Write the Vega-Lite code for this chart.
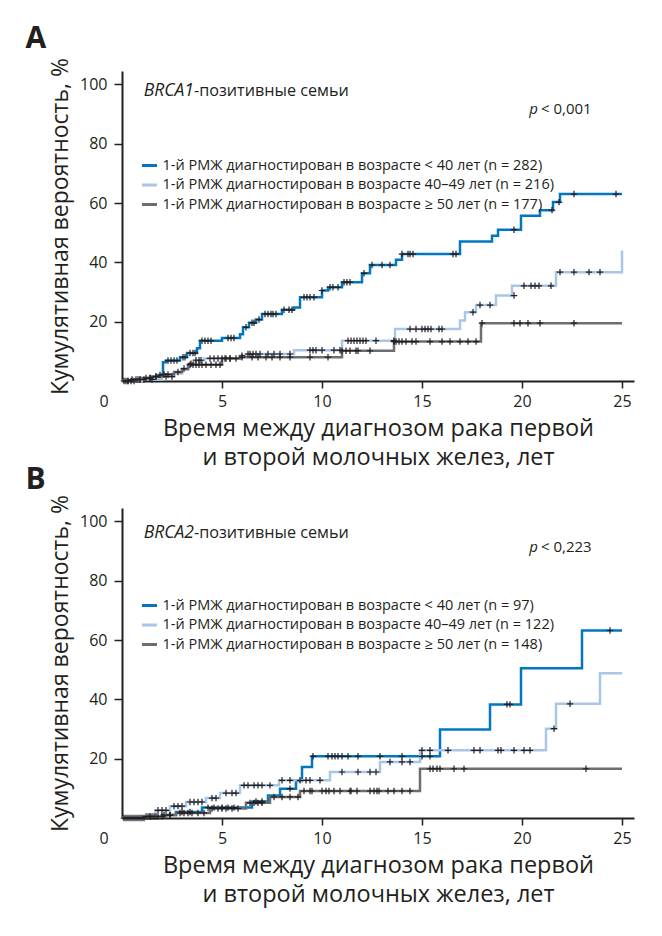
{
  "$schema": "https://vega.github.io/schema/vega-lite/v6.json",
  "background": "white",
  "padding": {"left": 25, "top": 24, "right": 10, "bottom": 10},
  "spacing": -5,
  "config": {
    "font": "Open Sans",
    "view": {"stroke": null},
    "axis": {"grid": false, "domainColor": "#231f20", "domainWidth": 2, "tickColor": "#231f20", "tickWidth": 1.5, "labelColor": "#231f20", "titleColor": "#231f20", "labelFont": "Open Sans", "titleFont": "Open Sans", "titleFontWeight": "normal"},
    "axisX": {"tickSize": 7, "labelFontSize": 16, "labelPadding": 5, "titleFontSize": 23.5, "titlePadding": 7, "titleLineHeight": 29},
    "axisY": {"tickSize": 8, "labelFontSize": 16, "labelPadding": 7, "titleFontSize": 23, "titlePadding": 7},
    "legend": {"orient": "none", "symbolType": "stroke", "symbolStrokeWidth": 3, "symbolSize": 225, "labelFontSize": 14.5, "labelColor": "#231f20", "labelFont": "Open Sans", "labelLimit": 600, "labelOffset": 4, "rowPadding": 3.5, "padding": 0, "title": null},
    "title": {"font": "Open Sans", "fontSize": 30, "fontWeight": "bold", "color": "#231f20", "anchor": "start", "frame": "group", "baseline": "alphabetic"}
  },
  "datasets": {
    "a_lines": [
      {"g":"a","t":0,"v":0},{"g":"a","t":0.8,"v":0.5},{"g":"a","t":1.3,"v":1.0},{"g":"a","t":1.6,"v":1.5},{"g":"a","t":1.85,"v":2.0},{"g":"a","t":2.05,"v":6.3},{"g":"a","t":2.2,"v":6.9},{"g":"a","t":2.9,"v":8.0},{"g":"a","t":3.25,"v":9.4},{"g":"a","t":3.75,"v":11.0},{"g":"a","t":3.9,"v":13.6},{"g":"a","t":5.0,"v":14.5},{"g":"a","t":5.9,"v":15.8},{"g":"a","t":6.05,"v":18.1},{"g":"a","t":6.35,"v":19.6},{"g":"a","t":6.7,"v":20.7},{"g":"a","t":7.0,"v":22.6},{"g":"a","t":8.0,"v":24.0},{"g":"a","t":8.6,"v":24.8},{"g":"a","t":8.9,"v":28.2},{"g":"a","t":10.0,"v":30.5},{"g":"a","t":10.3,"v":31.6},{"g":"a","t":11.0,"v":33.3},{"g":"a","t":12.0,"v":36.3},{"g":"a","t":12.4,"v":39.1},{"g":"a","t":13.7,"v":40.9},{"g":"a","t":14.0,"v":42.8},{"g":"a","t":16.9,"v":47.0},{"g":"a","t":18.5,"v":49.0},{"g":"a","t":18.8,"v":51.0},{"g":"a","t":19.95,"v":55.7},{"g":"a","t":20.9,"v":57.6},{"g":"a","t":21.55,"v":60.3},{"g":"a","t":21.9,"v":63.0},{"g":"a","t":25.0,"v":63.0},
      {"g":"b","t":0,"v":0},{"g":"b","t":1.0,"v":0.5},{"g":"b","t":2.0,"v":1.5},{"g":"b","t":2.6,"v":2.5},{"g":"b","t":3.0,"v":4.2},{"g":"b","t":3.35,"v":5.8},{"g":"b","t":3.6,"v":7.0},{"g":"b","t":4.1,"v":7.6},{"g":"b","t":5.9,"v":8.5},{"g":"b","t":6.2,"v":9.1},{"g":"b","t":8.6,"v":10.4},{"g":"b","t":11.0,"v":13.6},{"g":"b","t":13.65,"v":17.5},{"g":"b","t":16.9,"v":20.4},{"g":"b","t":17.15,"v":23.2},{"g":"b","t":17.7,"v":25.6},{"g":"b","t":18.7,"v":28.8},{"g":"b","t":19.5,"v":32.1},{"g":"b","t":21.7,"v":36.7},{"g":"b","t":25.0,"v":36.7},{"g":"b","t":25.0,"v":44.0},
      {"g":"c","t":0,"v":0},{"g":"c","t":0.5,"v":0.5},{"g":"c","t":1.0,"v":1.0},{"g":"c","t":1.5,"v":1.5},{"g":"c","t":2.0,"v":2.2},{"g":"c","t":2.6,"v":3.0},{"g":"c","t":3.0,"v":4.0},{"g":"c","t":3.3,"v":5.5},{"g":"c","t":5.0,"v":7.6},{"g":"c","t":5.9,"v":8.0},{"g":"c","t":11.0,"v":10.2},{"g":"c","t":13.6,"v":13.3},{"g":"c","t":17.95,"v":19.5},{"g":"c","t":25.0,"v":19.5}
    ],
    "a_cens": [
      {"g":"a","t":0.1,"v":0},{"g":"a","t":0.2,"v":0},{"g":"a","t":0.3,"v":0},{"g":"a","t":0.45,"v":0},{"g":"a","t":0.6,"v":0},{"g":"a","t":0.9,"v":0.5},{"g":"a","t":1.1,"v":0.5},{"g":"a","t":1.4,"v":1.0},{"g":"a","t":1.7,"v":1.5},{"g":"a","t":1.9,"v":2.0},{"g":"a","t":2.3,"v":6.9},{"g":"a","t":2.45,"v":6.9},{"g":"a","t":2.6,"v":6.9},{"g":"a","t":2.75,"v":6.9},{"g":"a","t":3.05,"v":8.0},{"g":"a","t":3.15,"v":8.0},{"g":"a","t":3.4,"v":9.4},{"g":"a","t":3.55,"v":9.4},{"g":"a","t":3.65,"v":9.4},{"g":"a","t":4.0,"v":13.6},{"g":"a","t":4.15,"v":13.6},{"g":"a","t":4.3,"v":13.6},{"g":"a","t":4.45,"v":13.6},{"g":"a","t":5.3,"v":14.5},{"g":"a","t":5.45,"v":14.5},{"g":"a","t":5.6,"v":14.5},{"g":"a","t":6.2,"v":18.1},{"g":"a","t":6.5,"v":19.6},{"g":"a","t":6.6,"v":19.6},{"g":"a","t":6.85,"v":20.7},{"g":"a","t":7.15,"v":22.6},{"g":"a","t":7.3,"v":22.6},{"g":"a","t":7.45,"v":22.6},{"g":"a","t":7.55,"v":22.6},{"g":"a","t":7.7,"v":22.6},{"g":"a","t":8.1,"v":24.0},{"g":"a","t":8.35,"v":24.0},{"g":"a","t":8.5,"v":24.0},{"g":"a","t":9.1,"v":28.2},{"g":"a","t":9.25,"v":28.2},{"g":"a","t":9.4,"v":28.2},{"g":"a","t":9.6,"v":28.2},{"g":"a","t":10.0,"v":30.5},{"g":"a","t":10.4,"v":31.6},{"g":"a","t":10.55,"v":31.6},{"g":"a","t":10.8,"v":31.6},{"g":"a","t":11.1,"v":33.3},{"g":"a","t":11.25,"v":33.3},{"g":"a","t":11.4,"v":33.3},{"g":"a","t":12.1,"v":36.3},{"g":"a","t":12.5,"v":39.1},{"g":"a","t":13.0,"v":39.1},{"g":"a","t":13.4,"v":39.1},{"g":"a","t":14.0,"v":42.8},{"g":"a","t":14.3,"v":42.8},{"g":"a","t":14.4,"v":42.8},{"g":"a","t":14.55,"v":42.8},{"g":"a","t":16.55,"v":42.8},{"g":"a","t":16.7,"v":42.8},{"g":"a","t":19.6,"v":51.0},{"g":"a","t":21.5,"v":57.6},{"g":"a","t":21.85,"v":60.3},{"g":"a","t":22.6,"v":63.0},{"g":"a","t":24.7,"v":63.0},
      {"g":"b","t":0.8,"v":0.5},{"g":"b","t":1.5,"v":0.5},{"g":"b","t":2.2,"v":1.5},{"g":"b","t":2.5,"v":1.5},{"g":"b","t":3.1,"v":4.2},{"g":"b","t":3.45,"v":5.8},{"g":"b","t":3.7,"v":7.0},{"g":"b","t":3.85,"v":7.0},{"g":"b","t":3.95,"v":7.0},{"g":"b","t":4.4,"v":7.6},{"g":"b","t":4.6,"v":7.6},{"g":"b","t":4.8,"v":7.6},{"g":"b","t":5.0,"v":7.6},{"g":"b","t":5.15,"v":7.6},{"g":"b","t":5.4,"v":7.6},{"g":"b","t":6.0,"v":8.5},{"g":"b","t":6.3,"v":9.1},{"g":"b","t":6.4,"v":9.1},{"g":"b","t":6.55,"v":9.1},{"g":"b","t":6.7,"v":9.1},{"g":"b","t":6.9,"v":9.1},{"g":"b","t":7.3,"v":9.1},{"g":"b","t":7.6,"v":9.1},{"g":"b","t":7.9,"v":9.1},{"g":"b","t":8.4,"v":9.1},{"g":"b","t":9.4,"v":10.4},{"g":"b","t":9.55,"v":10.4},{"g":"b","t":9.7,"v":10.4},{"g":"b","t":10.0,"v":10.4},{"g":"b","t":10.6,"v":10.4},{"g":"b","t":10.9,"v":10.4},{"g":"b","t":11.3,"v":13.6},{"g":"b","t":11.45,"v":13.6},{"g":"b","t":11.6,"v":13.6},{"g":"b","t":11.75,"v":13.6},{"g":"b","t":11.9,"v":13.6},{"g":"b","t":12.05,"v":13.6},{"g":"b","t":12.2,"v":13.6},{"g":"b","t":12.7,"v":13.6},{"g":"b","t":13.6,"v":13.6},{"g":"b","t":14.4,"v":17.5},{"g":"b","t":14.7,"v":17.5},{"g":"b","t":15.0,"v":17.5},{"g":"b","t":15.15,"v":17.5},{"g":"b","t":15.3,"v":17.5},{"g":"b","t":15.45,"v":17.5},{"g":"b","t":15.85,"v":17.5},{"g":"b","t":16.0,"v":17.5},{"g":"b","t":17.55,"v":23.2},{"g":"b","t":17.9,"v":25.6},{"g":"b","t":18.4,"v":25.6},{"g":"b","t":19.6,"v":28.8},{"g":"b","t":20.1,"v":32.1},{"g":"b","t":20.45,"v":32.1},{"g":"b","t":20.65,"v":32.1},{"g":"b","t":20.85,"v":32.1},{"g":"b","t":21.45,"v":32.1},{"g":"b","t":21.9,"v":36.7},{"g":"b","t":22.6,"v":36.7},{"g":"b","t":23.35,"v":36.7},{"g":"b","t":23.9,"v":36.7},
      {"g":"c","t":0.3,"v":0},{"g":"c","t":0.5,"v":0.5},{"g":"c","t":0.7,"v":0.5},{"g":"c","t":0.9,"v":0.5},{"g":"c","t":1.2,"v":1.0},{"g":"c","t":1.4,"v":1.0},{"g":"c","t":1.7,"v":1.5},{"g":"c","t":2.1,"v":2.2},{"g":"c","t":2.3,"v":2.2},{"g":"c","t":2.8,"v":3.0},{"g":"c","t":3.4,"v":5.5},{"g":"c","t":3.55,"v":5.5},{"g":"c","t":3.7,"v":5.5},{"g":"c","t":3.85,"v":5.5},{"g":"c","t":4.0,"v":5.5},{"g":"c","t":4.2,"v":5.5},{"g":"c","t":4.45,"v":5.5},{"g":"c","t":4.7,"v":5.5},{"g":"c","t":4.9,"v":5.5},{"g":"c","t":5.2,"v":7.6},{"g":"c","t":5.4,"v":7.6},{"g":"c","t":5.7,"v":7.6},{"g":"c","t":6.0,"v":8.0},{"g":"c","t":6.5,"v":8.0},{"g":"c","t":6.8,"v":8.0},{"g":"c","t":7.2,"v":8.0},{"g":"c","t":7.5,"v":8.0},{"g":"c","t":7.9,"v":8.0},{"g":"c","t":8.4,"v":8.0},{"g":"c","t":9.4,"v":8.0},{"g":"c","t":10.3,"v":8.0},{"g":"c","t":11.0,"v":10.2},{"g":"c","t":11.2,"v":10.2},{"g":"c","t":11.4,"v":10.2},{"g":"c","t":11.7,"v":10.2},{"g":"c","t":11.8,"v":10.2},{"g":"c","t":12.4,"v":10.2},{"g":"c","t":13.6,"v":13.3},{"g":"c","t":13.7,"v":13.3},{"g":"c","t":13.85,"v":13.3},{"g":"c","t":14.0,"v":13.3},{"g":"c","t":14.2,"v":13.3},{"g":"c","t":14.5,"v":13.3},{"g":"c","t":14.7,"v":13.3},{"g":"c","t":15.4,"v":13.3},{"g":"c","t":16.0,"v":13.3},{"g":"c","t":16.4,"v":13.3},{"g":"c","t":16.9,"v":13.3},{"g":"c","t":17.3,"v":13.3},{"g":"c","t":17.7,"v":13.3},{"g":"c","t":18.0,"v":19.5},{"g":"c","t":19.6,"v":19.5},{"g":"c","t":19.9,"v":19.5},{"g":"c","t":20.3,"v":19.5},{"g":"c","t":20.9,"v":19.5},{"g":"c","t":22.6,"v":19.5}
    ],
    "b_lines": [
      {"g":"a","t":0,"v":0},{"g":"a","t":1.2,"v":0.5},{"g":"a","t":2.0,"v":1.0},{"g":"a","t":2.7,"v":2.0},{"g":"a","t":4.0,"v":3.5},{"g":"a","t":6.5,"v":5.6},{"g":"a","t":7.3,"v":7.6},{"g":"a","t":7.9,"v":9.9},{"g":"a","t":8.7,"v":12.5},{"g":"a","t":9.0,"v":17.2},{"g":"a","t":9.5,"v":20.8},{"g":"a","t":15.9,"v":29.8},{"g":"a","t":18.4,"v":38.3},{"g":"a","t":19.95,"v":50.5},{"g":"a","t":23.0,"v":63.2},{"g":"a","t":25.0,"v":63.2},
      {"g":"b","t":0,"v":0},{"g":"b","t":1.0,"v":0.5},{"g":"b","t":1.67,"v":2.6},{"g":"b","t":2.4,"v":4.0},{"g":"b","t":3.2,"v":5.4},{"g":"b","t":4.2,"v":6.7},{"g":"b","t":4.9,"v":8.4},{"g":"b","t":5.9,"v":11.0},{"g":"b","t":7.85,"v":12.7},{"g":"b","t":10.4,"v":15.5},{"g":"b","t":12.9,"v":18.9},{"g":"b","t":14.9,"v":22.8},{"g":"b","t":21.2,"v":30.1},{"g":"b","t":21.7,"v":38.5},{"g":"b","t":23.9,"v":48.8},{"g":"b","t":25.0,"v":48.8},
      {"g":"c","t":0,"v":0},{"g":"c","t":1.3,"v":0.5},{"g":"c","t":2.2,"v":1.0},{"g":"c","t":2.7,"v":1.7},{"g":"c","t":4.4,"v":3.2},{"g":"c","t":6.2,"v":5.1},{"g":"c","t":7.4,"v":7.1},{"g":"c","t":8.9,"v":9.1},{"g":"c","t":14.9,"v":16.6},{"g":"c","t":25.0,"v":16.6}
    ],
    "b_cens": [
      {"g":"a","t":0.2,"v":0},{"g":"a","t":0.4,"v":0},{"g":"a","t":0.6,"v":0},{"g":"a","t":0.8,"v":0},{"g":"a","t":1.0,"v":0},{"g":"a","t":1.3,"v":0.5},{"g":"a","t":1.5,"v":0.5},{"g":"a","t":1.7,"v":0.5},{"g":"a","t":2.1,"v":1.0},{"g":"a","t":2.4,"v":1.0},{"g":"a","t":3.0,"v":2.0},{"g":"a","t":3.4,"v":2.0},{"g":"a","t":4.3,"v":3.5},{"g":"a","t":4.6,"v":3.5},{"g":"a","t":5.0,"v":3.5},{"g":"a","t":5.3,"v":3.5},{"g":"a","t":5.6,"v":3.5},{"g":"a","t":6.7,"v":5.6},{"g":"a","t":7.0,"v":5.6},{"g":"a","t":8.4,"v":9.9},{"g":"a","t":9.55,"v":20.8},{"g":"a","t":10.3,"v":20.8},{"g":"a","t":10.5,"v":20.8},{"g":"a","t":10.65,"v":20.8},{"g":"a","t":10.8,"v":20.8},{"g":"a","t":11.0,"v":20.8},{"g":"a","t":11.3,"v":20.8},{"g":"a","t":11.8,"v":20.8},{"g":"a","t":12.9,"v":20.8},{"g":"a","t":14.0,"v":20.8},{"g":"a","t":15.0,"v":20.8},{"g":"a","t":15.4,"v":20.8},{"g":"a","t":19.25,"v":38.3},{"g":"a","t":19.4,"v":38.3},{"g":"a","t":24.4,"v":63.2},
      {"g":"b","t":1.2,"v":0.5},{"g":"b","t":1.4,"v":0.5},{"g":"b","t":1.8,"v":2.6},{"g":"b","t":2.0,"v":2.6},{"g":"b","t":2.2,"v":2.6},{"g":"b","t":2.6,"v":4.0},{"g":"b","t":2.8,"v":4.0},{"g":"b","t":3.0,"v":4.0},{"g":"b","t":3.4,"v":5.4},{"g":"b","t":3.6,"v":5.4},{"g":"b","t":3.8,"v":5.4},{"g":"b","t":4.0,"v":5.4},{"g":"b","t":4.5,"v":6.7},{"g":"b","t":4.7,"v":6.7},{"g":"b","t":5.2,"v":8.4},{"g":"b","t":5.5,"v":8.4},{"g":"b","t":5.7,"v":8.4},{"g":"b","t":6.1,"v":11.0},{"g":"b","t":6.3,"v":11.0},{"g":"b","t":6.6,"v":11.0},{"g":"b","t":6.8,"v":11.0},{"g":"b","t":7.0,"v":11.0},{"g":"b","t":7.4,"v":11.0},{"g":"b","t":8.0,"v":12.7},{"g":"b","t":8.4,"v":12.7},{"g":"b","t":8.9,"v":12.7},{"g":"b","t":9.2,"v":12.7},{"g":"b","t":9.4,"v":12.7},{"g":"b","t":9.9,"v":12.7},{"g":"b","t":11.0,"v":15.5},{"g":"b","t":11.8,"v":15.5},{"g":"b","t":12.4,"v":15.5},{"g":"b","t":12.7,"v":15.5},{"g":"b","t":13.4,"v":18.9},{"g":"b","t":14.0,"v":18.9},{"g":"b","t":14.4,"v":18.9},{"g":"b","t":15.0,"v":22.8},{"g":"b","t":15.4,"v":22.8},{"g":"b","t":16.3,"v":22.8},{"g":"b","t":17.6,"v":22.8},{"g":"b","t":17.9,"v":22.8},{"g":"b","t":18.8,"v":22.8},{"g":"b","t":18.95,"v":22.8},{"g":"b","t":19.6,"v":22.8},{"g":"b","t":20.1,"v":22.8},{"g":"b","t":20.4,"v":22.8},{"g":"b","t":21.6,"v":30.1},{"g":"b","t":22.4,"v":38.5},
      {"g":"c","t":0.1,"v":0},{"g":"c","t":0.3,"v":0},{"g":"c","t":0.5,"v":0},{"g":"c","t":0.7,"v":0},{"g":"c","t":0.9,"v":0},{"g":"c","t":1.1,"v":0},{"g":"c","t":1.4,"v":0.5},{"g":"c","t":1.6,"v":0.5},{"g":"c","t":1.8,"v":0.5},{"g":"c","t":2.0,"v":0.5},{"g":"c","t":2.4,"v":1.0},{"g":"c","t":2.9,"v":1.7},{"g":"c","t":3.1,"v":1.7},{"g":"c","t":3.3,"v":1.7},{"g":"c","t":3.5,"v":1.7},{"g":"c","t":3.8,"v":1.7},{"g":"c","t":4.1,"v":1.7},{"g":"c","t":4.5,"v":3.2},{"g":"c","t":4.8,"v":3.2},{"g":"c","t":5.0,"v":3.2},{"g":"c","t":5.2,"v":3.2},{"g":"c","t":5.5,"v":3.2},{"g":"c","t":5.8,"v":3.2},{"g":"c","t":6.4,"v":5.1},{"g":"c","t":6.6,"v":5.1},{"g":"c","t":6.8,"v":5.1},{"g":"c","t":7.0,"v":5.1},{"g":"c","t":7.6,"v":7.1},{"g":"c","t":8.0,"v":7.1},{"g":"c","t":8.4,"v":7.1},{"g":"c","t":8.8,"v":7.1},{"g":"c","t":9.1,"v":9.1},{"g":"c","t":9.4,"v":9.1},{"g":"c","t":9.5,"v":9.1},{"g":"c","t":10.0,"v":9.1},{"g":"c","t":10.2,"v":9.1},{"g":"c","t":10.35,"v":9.1},{"g":"c","t":10.6,"v":9.1},{"g":"c","t":10.9,"v":9.1},{"g":"c","t":11.4,"v":9.1},{"g":"c","t":11.45,"v":9.1},{"g":"c","t":11.75,"v":9.1},{"g":"c","t":12.4,"v":9.1},{"g":"c","t":12.6,"v":9.1},{"g":"c","t":12.75,"v":9.1},{"g":"c","t":12.85,"v":9.1},{"g":"c","t":13.3,"v":9.1},{"g":"c","t":13.6,"v":9.1},{"g":"c","t":14.0,"v":9.1},{"g":"c","t":14.4,"v":9.1},{"g":"c","t":15.4,"v":16.6},{"g":"c","t":15.55,"v":16.6},{"g":"c","t":15.75,"v":16.6},{"g":"c","t":15.9,"v":16.6},{"g":"c","t":16.6,"v":16.6},{"g":"c","t":17.1,"v":16.6},{"g":"c","t":23.2,"v":16.6}
    ]
  },
  "resolve": {"scale": {"color": "independent"}, "legend": {"color": "independent"}},
  "vconcat": [
    {
      "width": 512, "height": 310,
      "title": {"text": "A", "dx": -96.5, "offset": 3.3},
      "layer": [
        {
          "data": {"name": "a_lines"},
          "mark": {"type": "line", "interpolate": "step-after", "strokeWidth": 2.5},
          "encoding": {
            "x": {"field": "t", "type": "quantitative", "scale": {"domain": [0, 25.6], "nice": false}, "axis": {"values": [0, 5, 10, 15, 20, 25], "title": ["Время между диагнозом рака первой", "и второй молочных желез, лет"], "labelOffset": {"condition": {"test": "datum.value === 0", "value": -23}, "value": 0}, "tickOpacity": {"condition": {"test": "datum.value === 0", "value": 0}, "value": 1}}},
            "y": {"field": "v", "type": "quantitative", "scale": {"domain": [0, 104.5], "nice": false}, "axis": {"values": [20, 40, 60, 80, 100], "title": "Кумулятивная вероятность, %"}},
            "color": {"field": "g", "type": "nominal", "scale": {"domain": ["a", "b", "c"], "range": ["#0077c0", "#a9c6e8", "#6d6e71"]}, "legend": {"legendX": 18.5, "legendY": 85.5, "labelExpr": "datum.value == 'a' ? '1-й РМЖ диагностирован в возрасте < 40 лет (n = 282)' : datum.value == 'b' ? '1-й РМЖ диагностирован в возрасте 40–49 лет (n = 216)' : '1-й РМЖ диагностирован в возрасте ≥ 50 лет (n = 177)'"}}
          }
        },
        {
          "data": {"name": "a_cens"},
          "mark": {"type": "point", "shape": "M-1,0H1M0,-1V1", "filled": false, "stroke": "#231f20", "strokeWidth": 1.2, "size": 42, "opacity": 1},
          "encoding": {"x": {"field": "t", "type": "quantitative"}, "y": {"field": "v", "type": "quantitative"}}
        },
        {
          "data": {"values": [{}]},
          "mark": {"type": "text", "align": "right", "baseline": "alphabetic", "fontStyle": "italic", "fontSize": 17.5, "color": "#231f20"},
          "encoding": {"x": {"datum": 3.6}, "y": {"datum": 96.1}, "text": {"value": "BRCA1"}}
        },
        {
          "data": {"values": [{}]},
          "mark": {"type": "text", "align": "left", "baseline": "alphabetic", "fontSize": 16.2, "color": "#231f20"},
          "encoding": {"x": {"datum": 3.6}, "y": {"datum": 96.1}, "text": {"value": "-позитивные семьи"}}
        },
        {
          "data": {"values": [{}]},
          "mark": {"type": "text", "align": "right", "baseline": "alphabetic", "fontStyle": "italic", "fontSize": 15, "color": "#231f20"},
          "encoding": {"x": {"datum": 20.8}, "y": {"datum": 90}, "text": {"value": "p"}}
        },
        {
          "data": {"values": [{}]},
          "mark": {"type": "text", "align": "left", "baseline": "alphabetic", "fontSize": 15, "color": "#231f20"},
          "encoding": {"x": {"datum": 20.95}, "y": {"datum": 90}, "text": {"value": "< 0,001"}}
        }
      ]
    },
    {
      "width": 512, "height": 310,
      "title": {"text": "B", "dx": -96.5, "offset": 0},
      "layer": [
        {
          "data": {"name": "b_lines"},
          "mark": {"type": "line", "interpolate": "step-after", "strokeWidth": 2.5},
          "encoding": {
            "x": {"field": "t", "type": "quantitative", "scale": {"domain": [0, 25.6], "nice": false}, "axis": {"values": [0, 5, 10, 15, 20, 25], "title": ["Время между диагнозом рака первой", "и второй молочных желез, лет"], "labelOffset": {"condition": {"test": "datum.value === 0", "value": -23}, "value": 0}, "tickOpacity": {"condition": {"test": "datum.value === 0", "value": 0}, "value": 1}}},
            "y": {"field": "v", "type": "quantitative", "scale": {"domain": [0, 104.5], "nice": false}, "axis": {"values": [20, 40, 60, 80, 100], "title": "Кумулятивная вероятность, %"}},
            "color": {"field": "g", "type": "nominal", "scale": {"domain": ["a", "b", "c"], "range": ["#0077c0", "#a9c6e8", "#6d6e71"]}, "legend": {"legendX": 18.5, "legendY": 88.5, "labelExpr": "datum.value == 'a' ? '1-й РМЖ диагностирован в возрасте < 40 лет (n = 97)' : datum.value == 'b' ? '1-й РМЖ диагностирован в возрасте 40–49 лет (n = 122)' : '1-й РМЖ диагностирован в возрасте ≥ 50 лет (n = 148)'"}}
          }
        },
        {
          "data": {"name": "b_cens"},
          "mark": {"type": "point", "shape": "M-1,0H1M0,-1V1", "filled": false, "stroke": "#231f20", "strokeWidth": 1.2, "size": 42, "opacity": 1},
          "encoding": {"x": {"field": "t", "type": "quantitative"}, "y": {"field": "v", "type": "quantitative"}}
        },
        {
          "data": {"values": [{}]},
          "mark": {"type": "text", "align": "right", "baseline": "alphabetic", "fontStyle": "italic", "fontSize": 17.5, "color": "#231f20"},
          "encoding": {"x": {"datum": 3.6}, "y": {"datum": 94.5}, "text": {"value": "BRCA2"}}
        },
        {
          "data": {"values": [{}]},
          "mark": {"type": "text", "align": "left", "baseline": "alphabetic", "fontSize": 16.2, "color": "#231f20"},
          "encoding": {"x": {"datum": 3.6}, "y": {"datum": 94.5}, "text": {"value": "-позитивные семьи"}}
        },
        {
          "data": {"values": [{}]},
          "mark": {"type": "text", "align": "right", "baseline": "alphabetic", "fontStyle": "italic", "fontSize": 15, "color": "#231f20"},
          "encoding": {"x": {"datum": 20.8}, "y": {"datum": 89.6}, "text": {"value": "p"}}
        },
        {
          "data": {"values": [{}]},
          "mark": {"type": "text", "align": "left", "baseline": "alphabetic", "fontSize": 15, "color": "#231f20"},
          "encoding": {"x": {"datum": 20.95}, "y": {"datum": 89.6}, "text": {"value": "< 0,223"}}
        }
      ]
    }
  ]
}
